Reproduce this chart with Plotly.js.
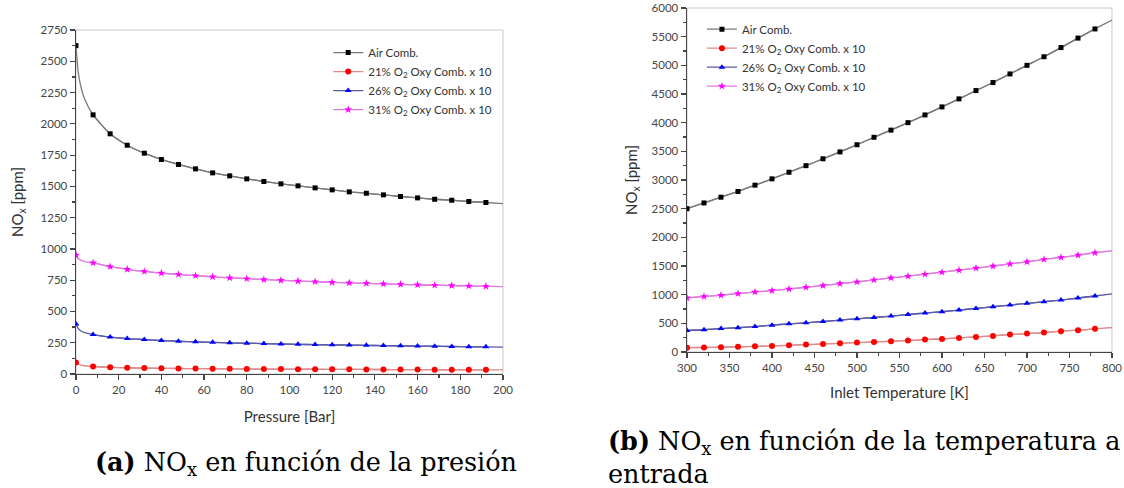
<!DOCTYPE html>
<html><head><meta charset="utf-8">
<script src="https://cdn.plot.ly/plotly-3.0.1.min.js"></script>
<style>html,body{margin:0;padding:0;background:#fff}#chart{width:1124px;height:488px}</style>
</head><body><div id="chart"></div><script>
// ---------- (a) NOx vs pressure ----------
const pressure = [0,8,16,24,32,40,48,56,64,72,80,88,96,104,112,120,128,136,144,152,160,168,176,184,192];
const pressureEarly = [1,2,4];
const pressureEnd = 200;
const airP = [2625,2072,1920,1829,1765,1715,1675,1640,1608,1584,1560,1539,1520,1504,1488,1472,1456,1445,1432,1419,1408,1397,1389,1379,1371];
const airPEarly = [2420,2320,2200];
const airPEnd = 1362;
const o21P = [92,60,53,49,47,45,44,43,42,41,40,39.5,39,38.5,38,37.5,37,36.5,36,35.5,35,34.5,34,33.5,33];
const o21PEarly = [80,73,66];
const o21PEnd = 33;
const o26P = [400,315,295,283,275,268,262,257,253,249,246,243,240,237,235,233,231,229,227,225,223,222,220,218,217];
const o26PEarly = [365,348,330];
const o26PEnd = 215;
const o31P = [950,888,858,837,820,807,796,786,777,769,762,755,749,743,738,733,729,725,721,717,713,710,707,704,701];
const o31PEarly = [925,912,898];
const o31PEnd = 698;

// ---------- (b) NOx vs inlet temperature ----------
const temperature = [300,320,340,360,380,400,420,440,460,480,500,520,540,560,580,600,620,640,660,680,700,720,740,760,780];
const temperatureEnd = 800;
const airT = [2500,2600,2700,2800,2910,3020,3135,3250,3370,3490,3615,3745,3870,4000,4135,4275,4415,4560,4700,4850,5000,5150,5310,5475,5635];
const airTEnd = 5790;
const o21T = [75,78,84,90,99,106,117,129,140,152,164,175,187,199,216,228,246,263,281,304,322,339,363,380,404];
const o21TEnd = 427;
const o26T = [375,388,409,423,444,468,491,509,532,556,579,602,626,655,678,702,731,760,789,819,848,877,906,942,977];
const o26TEnd = 1012;
const o31T = [945,968,990,1018,1047,1070,1099,1129,1158,1193,1222,1257,1292,1322,1357,1392,1427,1462,1497,1538,1573,1614,1649,1690,1731];
const o31TEnd = 1766;

const seriesNames = ['Air Comb.','21% O<sub>2</sub> Oxy Comb. x 10','26% O<sub>2</sub> Oxy Comb. x 10','31% O<sub>2</sub> Oxy Comb. x 10'];
const markerColors = ['#000000','#ff0000','#0000ff','#ff00ff'];
const lineColors = ['#7a7a7a','#e08a8a','#5a5aa8','#e27ae2'];
const markerSymbols = ['square','circle','triangle-up','star'];
const markerSizes = [5,6,6,6];

const pSets = [[airP,airPEarly,airPEnd],[o21P,o21PEarly,o21PEnd],[o26P,o26PEarly,o26PEnd],[o31P,o31PEarly,o31PEnd]];
const tSets = [[airT,airTEnd],[o21T,o21TEnd],[o26T,o26TEnd],[o31T,o31TEnd]];

const traces = [];
pSets.forEach((s,i)=>{
  const lx = [pressure[0], ...pressureEarly, ...pressure.slice(1), pressureEnd];
  const ly = [s[0][0], ...s[1], ...s[0].slice(1), s[2]];
  traces.push({x:lx,y:ly,mode:'lines',line:{color:lineColors[i],width:1.3,shape:'spline',smoothing:0.7},showlegend:false,hoverinfo:'skip',xaxis:'x',yaxis:'y'});
  // markers (gap after the first point so no extra segment is drawn)
  const mx = [pressure[0], null, ...pressure.slice(1)];
  const my = [s[0][0], null, ...s[0].slice(1)];
  traces.push({x:mx,y:my,name:seriesNames[i],mode:'lines+markers',connectgaps:false,line:{color:lineColors[i],width:1.3,shape:'spline',smoothing:0.7},marker:{color:markerColors[i],symbol:markerSymbols[i],size:markerSizes[i]},legend:'legend',xaxis:'x',yaxis:'y'});
});
tSets.forEach((s,i)=>{
  const lx = [...temperature, temperatureEnd];
  const ly = [...s[0], s[1]];
  traces.push({x:lx,y:ly,mode:'lines',line:{color:lineColors[i],width:1.3,shape:'spline',smoothing:0.7},showlegend:false,hoverinfo:'skip',xaxis:'x2',yaxis:'y2'});
  traces.push({x:temperature,y:s[0],name:seriesNames[i],mode:'lines+markers',line:{color:lineColors[i],width:1.3,shape:'spline',smoothing:0.7},marker:{color:markerColors[i],symbol:markerSymbols[i],size:markerSizes[i]},legend:'legend2',xaxis:'x2',yaxis:'y2'});
});

const tickFont = {family:'Lato, sans-serif',size:11.5,color:'#454545'};
const titleFont = {family:'Lato, sans-serif',size:15,color:'#333'};
const axisCommon = {showline:true,linecolor:'#444',linewidth:1.4,ticks:'outside',ticklen:5,tickcolor:'#444',tickwidth:1.2,showgrid:false,zeroline:false,tickfont:tickFont};
const legendFont = {family:'Lato, sans-serif',size:11.5,color:'#333'};
const captionFont = {family:'DejaVu Serif, serif',size:25.5,color:'#000'};

const layout = {
  width:1124,height:488,margin:{l:0,r:0,t:0,b:0},paper_bgcolor:'#fff',plot_bgcolor:'#fff',
  showlegend:true,
  xaxis:Object.assign({},axisCommon,{domain:[0.0676,0.4475],range:[0,200],dtick:20,anchor:'y',
    minor:{dtick:10,ticks:'outside',ticklen:3,tickcolor:'#444'},
    title:{text:'Pressure [Bar]',font:titleFont,standoff:16}}),
  yaxis:Object.assign({},axisCommon,{domain:[0.2336,0.9385],range:[0,2750],dtick:250,anchor:'x',
    minor:{dtick:125,ticks:'outside',ticklen:3,tickcolor:'#444'},
    title:{text:'NO<sub>x</sub> [ppm]',font:titleFont,standoff:13}}),
  xaxis2:Object.assign({},axisCommon,{domain:[0.6112,0.9893],range:[300,800],dtick:50,anchor:'y2',
    minor:{dtick:25,ticks:'outside',ticklen:3,tickcolor:'#444'},
    title:{text:'Inlet Temperature [K]',font:titleFont,standoff:14}}),
  yaxis2:Object.assign({},axisCommon,{domain:[0.2787,0.9836],range:[0,6000],dtick:500,anchor:'x2',
    minor:{dtick:250,ticks:'outside',ticklen:3,tickcolor:'#444'},
    title:{text:'NO<sub>x</sub> [ppm]',font:titleFont,standoff:10}}),
  legend:{x:0.292,y:0.922,xanchor:'left',yanchor:'top',bgcolor:'rgba(0,0,0,0)',font:legendFont,itemwidth:30,tracegroupgap:0},
  legend2:{x:0.6245,y:0.97,xanchor:'left',yanchor:'top',bgcolor:'rgba(0,0,0,0)',font:legendFont,itemwidth:30,tracegroupgap:0},
  shapes:[
    {type:'rect',xref:'x domain',yref:'y domain',x0:0,x1:1,y0:0,y1:1,line:{color:'#c8c8c8',width:1},layer:'below'},
    {type:'rect',xref:'x2 domain',yref:'y2 domain',x0:0,x1:1,y0:0,y1:1,line:{color:'#c8c8c8',width:1},layer:'below'}
  ],
  annotations:[
    {xref:'paper',yref:'paper',x:0.2722,y:0.051,xanchor:'center',yanchor:'middle',showarrow:false,
     text:'<b>(a)</b> NO<sub>x</sub> en función de la presión',font:captionFont},
    {xref:'paper',yref:'paper',x:0.539,y:0.132,xanchor:'left',yanchor:'top',align:'left',showarrow:false,
     text:'<b>(b)</b> NO<sub>x</sub> en función de la temperatura a<br>entrada',font:captionFont}
  ]
};
Plotly.newPlot('chart',traces,layout,{displayModeBar:false,staticPlot:true});
</script></body></html>
